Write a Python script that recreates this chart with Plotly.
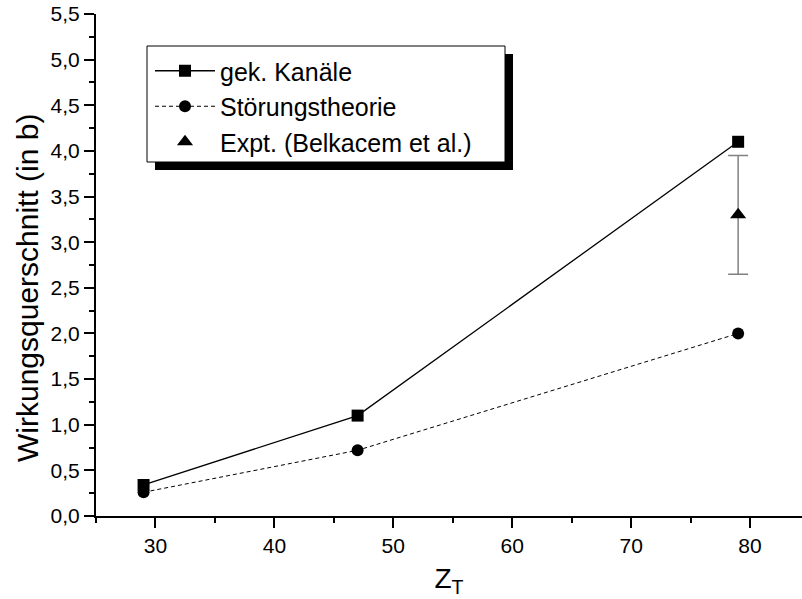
import plotly.graph_objects as go

# data
z_target = [29, 47, 79]
gek_kanaele = [0.34, 1.10, 4.10]
stoerung = [0.26, 0.72, 2.00]
expt_z = [79]
expt_val = [3.30]
expt_err = [0.65]

FONT = "Liberation Sans, Arial, sans-serif"

fig = go.Figure()
fig.add_trace(go.Scatter(
    x=z_target, y=gek_kanaele, name="gek. Kanäle", mode="lines+markers",
    line=dict(color="black", width=1.3),
    marker=dict(symbol="square", size=12, color="black")))
fig.add_trace(go.Scatter(
    x=z_target, y=stoerung, name="Störungstheorie", mode="lines+markers",
    line=dict(color="black", width=1, dash="4px,3px"),
    marker=dict(symbol="circle", size=12, color="black")))
fig.add_trace(go.Scatter(
    x=expt_z, y=expt_val, name="Expt. (Belkacem et al.)", mode="markers",
    marker=dict(symbol="triangle-up", size=14, color="black"),
    error_y=dict(type="data", array=expt_err, color="#808080", thickness=1.5, width=10)))

L, R, T, B = 96, 0, 14, 83
W, H = 802, 599
pw, ph = W - L - R, H - T - B

def px(xp):
    return (xp - L) / pw

def py(yp):
    return (H - B - yp) / ph

# legend frame with shadow
fig.add_shape(type="rect", xref="paper", yref="paper",
              x0=px(155), x1=px(513), y0=py(170), y1=py(54),
              fillcolor="black", line=dict(width=0), layer="above")
fig.add_shape(type="rect", xref="paper", yref="paper",
              x0=px(147), x1=px(505), y0=py(162), y1=py(46),
              fillcolor="white", line=dict(color="black", width=1), layer="above")

fig.add_annotation(text="Wirkungsquerschnitt (in b)", textangle=-90,
                   xref="paper", yref="paper", x=px(27), y=py(288),
                   xanchor="center", yanchor="middle",
                   showarrow=False, font=dict(family=FONT, size=30, color="black"))

fig.update_layout(
    width=W, height=H,
    margin=dict(l=L, r=R, t=T, b=B, pad=0),
    paper_bgcolor="white", plot_bgcolor="white",
    separators=",.",
    font=dict(family=FONT, color="black"),
    showlegend=True,
    legend=dict(x=px(150), y=py(48), xanchor="left", yanchor="top",
                bgcolor="rgba(0,0,0,0)", borderwidth=0,
                font=dict(family=FONT, size=25, color="black"),
                itemwidth=60, tracegroupgap=0),
    xaxis=dict(range=[25, 84.37], tick0=0, dtick=10, ticks="outside", ticklen=10,
               tickwidth=2, tickcolor="black", showline=True, linecolor="black",
               linewidth=2, showgrid=False, zeroline=False,
               tickfont=dict(family=FONT, size=21, color="black"),
               minor=dict(tick0=25, dtick=5, ticks="outside", ticklen=5,
                          tickwidth=2, tickcolor="black", showgrid=False),
               title=dict(text="Z<sub>T</sub>", font=dict(family=FONT, size=28, color="black"),
                          standoff=12)),
    yaxis=dict(range=[0, 5.5], tick0=0, dtick=0.5, tickformat=".1f", ticks="outside",
               ticklen=10, tickwidth=2, tickcolor="black", showline=True,
               linecolor="black", linewidth=2, showgrid=False, zeroline=False,
               tickfont=dict(family=FONT, size=21, color="black"),
               minor=dict(tick0=0, dtick=0.25, ticks="outside", ticklen=5,
                          tickwidth=2, tickcolor="black", showgrid=False)),
)

fig.write_html("out.html")
